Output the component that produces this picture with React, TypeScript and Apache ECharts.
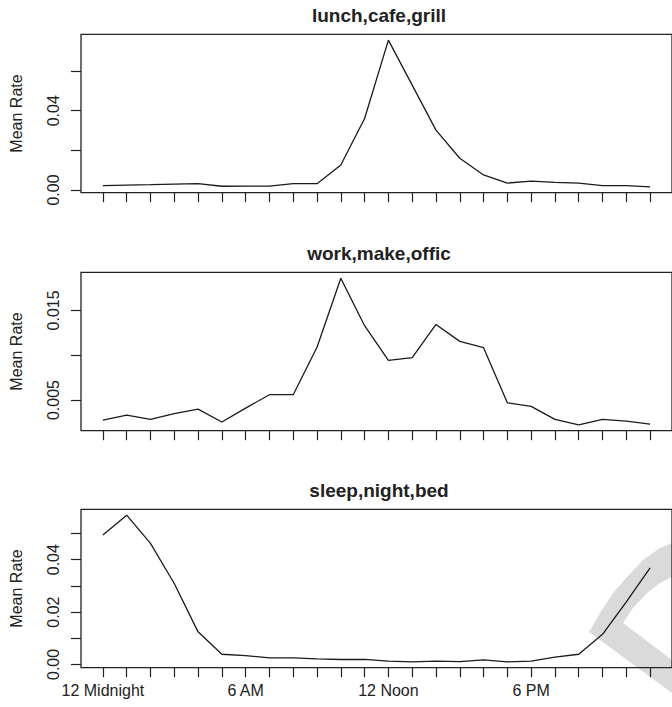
import { useEffect, useRef } from "react";
import * as echarts from "echarts";

// Hour of day (0 = midnight) for each measurement.
const hours = [0, 1, 2, 3, 4, 5, 6, 7, 8, 9, 10, 11, 12, 13, 14, 15, 16, 17, 18, 19, 20, 21, 22, 23];
const labelHours = [0, 6, 12, 18];
const labelTexts = ["12 Midnight", "6 AM", "12 Noon", "6 PM"];

const panelTitles = ["lunch,cafe,grill", "work,make,offic", "sleep,night,bed"];

const lunchCafeGrill = [
  0.0022, 0.0025, 0.0027, 0.003, 0.0032, 0.0019, 0.002, 0.002, 0.0032, 0.0032, 0.0126, 0.0361,
  0.0756, 0.0529, 0.0302, 0.016, 0.0076, 0.0035, 0.0045, 0.0039, 0.0035, 0.0022, 0.0022, 0.0016,
];
const workMakeOffic = [
  0.00277, 0.00333, 0.00285, 0.00348, 0.004, 0.00255, 0.00411, 0.0056, 0.0056, 0.0109, 0.0186, 0.0133,
  0.00943, 0.00973, 0.01344, 0.01155, 0.01084, 0.0047, 0.0043, 0.00285, 0.00224, 0.00285, 0.00266, 0.00232,
];
const sleepNightBed = [
  0.0494, 0.057, 0.0462, 0.0309, 0.01245, 0.0039, 0.0034, 0.0025, 0.0025, 0.0021, 0.0019, 0.0019,
  0.00126, 0.001, 0.00126, 0.0011, 0.00176, 0.001, 0.00126, 0.0028, 0.0039, 0.0115, 0.0239, 0.0369,
];

const yTicksLunch = [0, 0.02, 0.04, 0.06];
const yLabelsLunch = [0, 0.04];
const yTicksWork = [0.005, 0.01, 0.015];
const yLabelsWork = [0.005, 0.015];
const yTicksSleep = [0, 0.01, 0.02, 0.03, 0.04, 0.05];
const yLabelsSleep = [0, 0.02, 0.04];

const FONT = '"Liberation Sans", Arial, Helvetica, sans-serif';
const INK = "#222222";

export default function App() {
  const ref = useRef<HTMLDivElement>(null);

  useEffect(() => {
    if (!ref.current) return;
    const chart = echarts.init(ref.current, undefined, { renderer: "svg" });

    const panels = [
      { title: panelTitles[0], values: lunchCafeGrill, ticks: yTicksLunch, labels: yLabelsLunch, dec: 2 },
      { title: panelTitles[1], values: workMakeOffic, ticks: yTicksWork, labels: yLabelsWork, dec: 3 },
      { title: panelTitles[2], values: sleepNightBed, ticks: yTicksSleep, labels: yLabelsSleep, dec: 2 },
    ];

    const plotLeft = 81;
    const plotWidth = 596;
    const plotHeight = 158.4;
    const tops = [34.3, 272.3, 509.3];

    // R-style 4% padding on each side of the data range
    const xPad = 0.04 * (hours[hours.length - 1] - hours[0]);

    const grid = tops.map((t) => ({
      left: plotLeft,
      top: t,
      width: plotWidth,
      height: plotHeight,
      show: true,
      borderColor: INK,
      borderWidth: 1.3,
      backgroundColor: "transparent",
    }));

    const xAxis = panels.map((_, i) => ({
      gridIndex: i,
      type: "value",
      min: hours[0] - xPad,
      max: hours[hours.length - 1] + xPad,
      axisLine: { show: false, onZero: false },
      splitLine: { show: false },
      axisTick: { show: true, customValues: hours, length: 9.5, lineStyle: { color: INK, width: 1.2 } },
      axisLabel:
        i === 2
          ? {
              show: true,
              customValues: labelHours,
              formatter: (v: number) => labelTexts[labelHours.indexOf(Math.round(v))] ?? "",
              fontSize: 16,
              fontFamily: FONT,
              color: INK,
              margin: 15,
            }
          : { show: false },
    }));

    const yAxis = panels.map((p, i) => {
      const lo = Math.min(...p.values);
      const hi = Math.max(...p.values);
      const pad = 0.04 * (hi - lo);
      return {
        gridIndex: i,
        type: "value",
        min: lo - pad,
        max: hi + pad,
        axisLine: { show: false, onZero: false },
        splitLine: { show: false },
        axisTick: { show: true, customValues: p.ticks, length: 10, lineStyle: { color: INK, width: 1.2 } },
        axisLabel: {
          show: true,
          customValues: p.labels,
          rotate: 90,
          formatter: (v: number) => v.toFixed(p.dec),
          fontSize: 16,
          fontFamily: FONT,
          color: INK,
          margin: 20,
        },
        name: "Mean Rate",
        nameLocation: "middle",
        nameGap: 57,
        nameTextStyle: { fontSize: 16, fontFamily: FONT, color: INK },
      };
    });

    const series = panels.map((p, i) => ({
      type: "line",
      xAxisIndex: i,
      yAxisIndex: i,
      data: hours.map((h, k) => [h, p.values[k]]),
      showSymbol: false,
      silent: true,
      lineStyle: { color: "#1a1a1a", width: 1.3 },
    }));

    const titles = panels.map((p, i) => ({
      type: "text",
      x: plotLeft + plotWidth / 2,
      y: tops[i] - 19,
      style: {
        text: p.title,
        font: `bold 19px ${FONT}`,
        fill: INK,
        align: "center",
        verticalAlign: "middle",
      },
    }));

    // light grey stroke mark in the lower-right corner
    const mark = {
      type: "polygon",
      z: -10,
      silent: true,
      shape: {
        points: [
          [589, 632], [600, 613], [613, 593], [627, 577], [643, 560], [660, 548], [672, 543], [690, 538],
          [690, 571], [672, 577], [660, 583], [647, 593], [633, 608], [623, 623], [672, 660], [690, 673],
          [690, 706], [672, 693],
        ],
      },
      style: { fill: "#dadada" },
    };

    chart.setOption({
      animation: false,
      backgroundColor: "#ffffff",
      textStyle: { fontFamily: FONT },
      grid,
      xAxis,
      yAxis,
      series,
      graphic: [mark, ...titles],
    });

    return () => chart.dispose();
  }, []);

  return <div ref={ref} style={{ position: "fixed", left: 0, top: 0, width: 672, height: 707 }} />;
}
